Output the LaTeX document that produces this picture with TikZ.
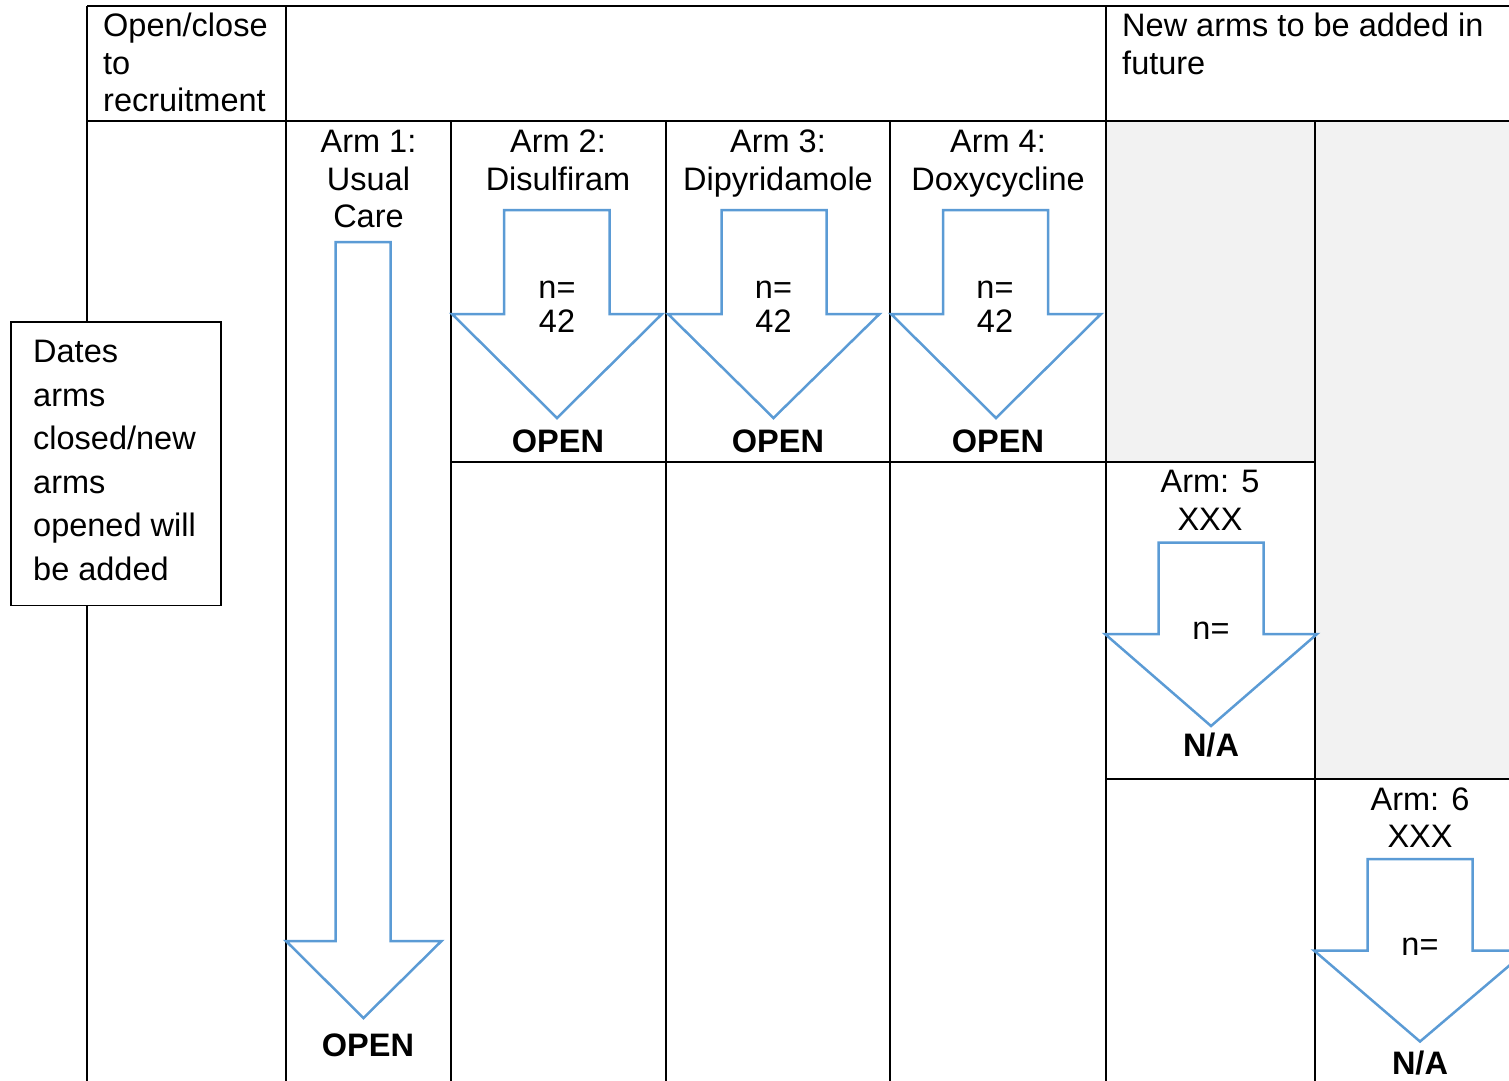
\documentclass[tikz,border=0pt]{standalone}
\usepackage{fontspec}
\setmainfont{Liberation Sans}
\definecolor{armblue}{HTML}{5B9BD5}
\definecolor{futuregray}{HTML}{F2F2F2}
% block arrow: shaft left/right, shaft top, head base, head left/right, tip x/y
\newcommand\blockarrow[8]{%
  \draw[armarrow] (#1,#3) -- (#2,#3) -- (#2,#4) -- (#6,#4) -- (#7,#8) -- (#5,#4) -- (#1,#4) -- cycle;}
\begin{document}
\begin{tikzpicture}[x=1pt,y=-1pt,
  every node/.style={inner sep=0pt, font=\fontsize{32.5}{37}\selectfont},
  txt/.style={anchor=base},
  ltxt/.style={anchor=base west},
  bold/.style={anchor=base, font=\fontsize{32.5}{37}\selectfont\bfseries},
  grid/.style={line width=2pt, black},
  armarrow/.style={line width=2.5pt, armblue, line join=miter}]
\useasboundingbox (0,0) rectangle (1509,1080);
\clip (0,0) rectangle (1509,1080);

% shaded cells for future arms
\fill[futuregray] (1106,121) rectangle (1315,462);
\fill[futuregray] (1315,121) rectangle (1540,779);

% table rules
\draw[grid] (87,6) -- (1540,6);
\draw[grid] (87,121) -- (1540,121);
\draw[grid] (451,462) -- (1315,462);
\draw[grid] (1106,779) -- (1540,779);
\foreach \x in {87,286,1106} \draw[grid] (\x,6) -- (\x,1090);
\foreach \x in {451,666,890,1315} \draw[grid] (\x,121) -- (\x,1090);

% header texts
\node[ltxt] (hdA) at (103,36.5) {Open/close};
\node[ltxt] (hdB) at (103,74) {to};
\node[ltxt] (hdC) at (103,111.5) {recruitment};
\node[ltxt] (nwA) at (1122,36.5) {New arms to be added in};
\node[ltxt] (nwB) at (1122,74) {future};

% arm arrows
\blockarrow{335.5}{390.5}{242}{941}{286}{441.5}{363.5}{1018}
\blockarrow{504}{609.5}{210}{314}{452}{662}{557}{418}
\blockarrow{721.5}{826.5}{210}{314}{668}{879.5}{773.5}{418}
\blockarrow{943}{1048}{210}{314}{891}{1101}{996}{418}
\blockarrow{1158.5}{1263.5}{542.5}{634}{1105}{1317}{1211}{726}
\blockarrow{1367.5}{1472.5}{859}{950.5}{1314}{1527}{1420}{1041.5}

% arm 1
\node[txt] (aoneA) at (368.5,152.5) {Arm 1:};
\node[txt] (aoneB) at (368.5,190) {Usual};
\node[txt] (aoneC) at (368.5,227.5) {Care};
\node[bold] (aoneS) at (368,1056.5) {OPEN};
% arm 2
\node[txt] (atwoA) at (558,152.5) {Arm 2:};
\node[txt] (atwoB) at (558,190) {Disulfiram};
\node[txt] (atwoN) at (557,298) {n=};
\node[txt] (atwoV) at (557,332) {42};
\node[bold] (atwoS) at (558,452.5) {OPEN};
% arm 3
\node[txt] (athrA) at (778,152.5) {Arm 3:};
\node[txt] (athrB) at (778,190) {Dipyridamole};
\node[txt] (athrN) at (773.5,298) {n=};
\node[txt] (athrV) at (773.5,332) {42};
\node[bold] (athrS) at (778,452.5) {OPEN};
% arm 4
\node[txt] (afouA) at (998,152.5) {Arm 4:};
\node[txt] (afouB) at (998,190) {Doxycycline};
\node[txt] (afouN) at (995,298) {n=};
\node[txt] (afouV) at (995,332) {42};
\node[bold] (afouS) at (998,452.5) {OPEN};
% arm 5
\node[txt] (afivA) at (1210,492.5) {Arm: 5};
\node[txt] (afivB) at (1210,530) {XXX};
\node[txt] (afivN) at (1211,639) {n=};
\node[bold] (afivS) at (1211,756.5) {N/A};
% arm 6
\node[txt] (asixA) at (1420,810.5) {Arm: 6};
\node[txt] (asixB) at (1420,847.5) {XXX};
\node[txt] (asixN) at (1420,955.5) {n=};
\node[bold] (asixS) at (1420,1074) {N/A};

% side note box
\node[draw, fill=white, line width=1.8pt, anchor=north west,
      minimum width=210pt, minimum height=283.5pt] (datesbox) at (10,321) {};
\node[ltxt] (dtA) at (33,362.5) {Dates};
\node[ltxt] (dtB) at (33,406) {arms};
\node[ltxt] (dtC) at (33,449.5) {closed/new};
\node[ltxt] (dtD) at (33,493) {arms};
\node[ltxt] (dtE) at (33,536.5) {opened will};
\node[ltxt] (dtF) at (33,580) {be added};
\end{tikzpicture}
\end{document}
